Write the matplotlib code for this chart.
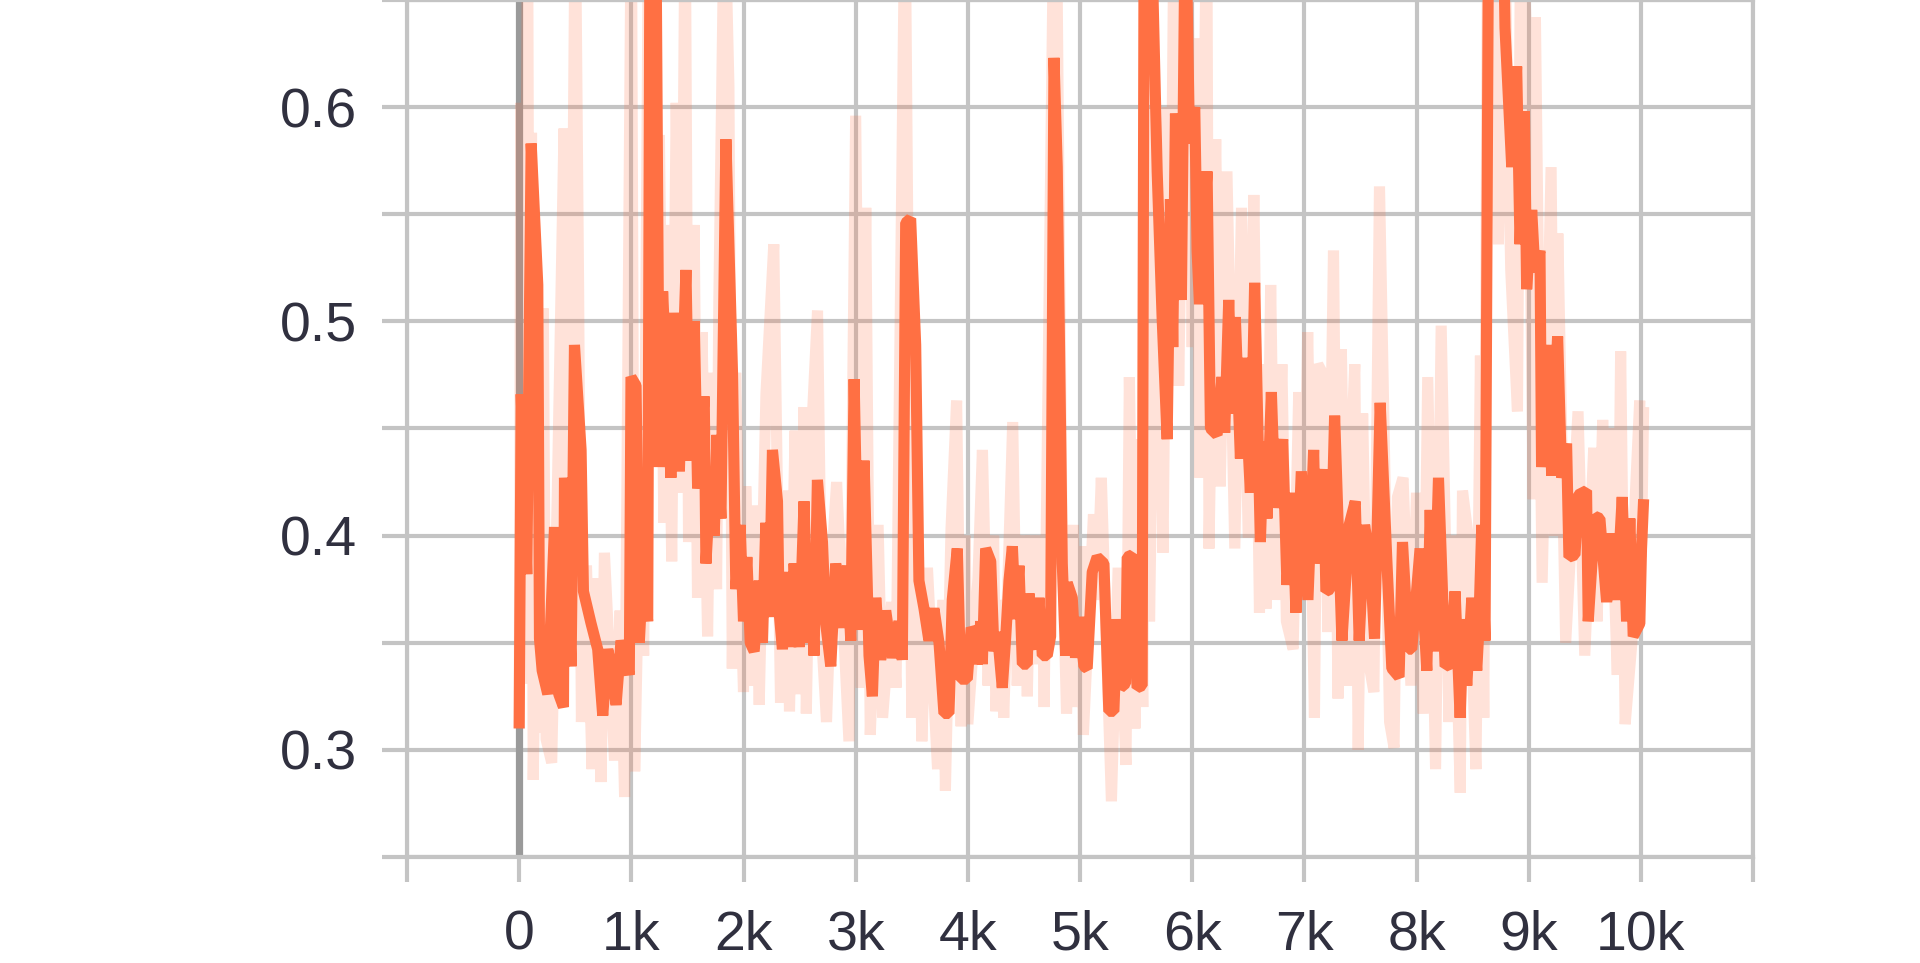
import matplotlib
matplotlib.use("Agg")
import matplotlib.pyplot as plt

# smoothed curve (vertices)
smooth_steps = [0, 18, 68, 107, 166, 181, 205, 255, 315, 353, 395, 404, 463, 493, 552, 573,
                641, 700, 745, 790, 819, 864, 908, 982, 997, 1042, 1071, 1101, 1146, 1170,
                1215, 1250, 1279, 1353, 1383, 1428, 1487, 1517, 1561, 1591, 1650, 1665, 1710,
                1739, 1763, 1799, 1843, 1902, 1932, 1970, 2000, 2030, 2060, 2095, 2140, 2169,
                2199, 2229, 2258, 2303, 2318, 2347, 2392, 2422, 2451, 2496, 2540, 2570, 2600,
                2629, 2659, 2704, 2733, 2778, 2822, 2882, 2926, 2956, 2986, 3030, 3075, 3119,
                3149, 3179, 3223, 3268, 3327, 3386, 3416, 3446, 3490, 3535, 3564, 3609, 3653,
                3698, 3743, 3787, 3832, 3861, 3906, 3936, 3995, 4030, 4055, 4085, 4115, 4129,
                4159, 4204, 4233, 4263, 4307, 4337, 4367, 4397, 4426, 4456, 4486, 4530, 4545,
                4575, 4604, 4634, 4664, 4708, 4738, 4768, 4797, 4842, 4872, 4886, 4931, 4960,
                4990, 5035, 5064, 5109, 5153, 5213, 5257, 5302, 5331, 5361, 5406, 5421, 5465,
                5509, 5554, 5575, 5620, 5688, 5732, 5777, 5806, 5827, 5851, 5904, 5940, 5976,
                6023, 6044, 6065, 6133, 6163, 6222, 6266, 6290, 6326, 6355, 6385, 6430, 6459,
                6519, 6557, 6608, 6637, 6667, 6706, 6741, 6807, 6845, 6890, 6925, 6973, 7032,
                7083, 7103, 7172, 7192, 7231, 7270, 7335, 7400, 7454, 7489, 7537, 7587, 7626,
                7676, 7736, 7780, 7845, 7875, 7929, 7958, 8032, 8092, 8122, 8151, 8196, 8255,
                8300, 8344, 8389, 8418, 8448, 8493, 8537, 8552, 8582, 8611, 8645, 8770, 8789,
                8849, 8893, 8923, 8962, 8982, 9027, 9056, 9101, 9115, 9175, 9205, 9258, 9294,
                9338, 9359, 9413, 9442, 9516, 9531, 9591, 9635, 9695, 9739, 9784, 9834, 9873,
                9902, 9932, 9991, 10006, 10025]
smooth_vals = [0.31, 0.466, 0.382, 0.583, 0.517, 0.352, 0.337, 0.326, 0.404, 0.326, 0.32, 0.427,
               0.339, 0.489, 0.44, 0.374, 0.359, 0.347, 0.316, 0.347, 0.339, 0.321, 0.351,
               0.335, 0.474, 0.47, 0.35, 0.381, 0.36, 0.75, 0.72, 0.432, 0.514, 0.427, 0.504,
               0.43, 0.524, 0.435, 0.5, 0.422, 0.465, 0.387, 0.43, 0.4, 0.447, 0.408, 0.585,
               0.476, 0.375, 0.405, 0.36, 0.39, 0.35, 0.346, 0.379, 0.35, 0.406, 0.362, 0.44,
               0.416, 0.364, 0.347, 0.383, 0.348, 0.387, 0.348, 0.416, 0.35, 0.387, 0.344,
               0.426, 0.397, 0.359, 0.339, 0.387, 0.357, 0.386, 0.351, 0.473, 0.356, 0.435,
               0.344, 0.325, 0.371, 0.342, 0.365, 0.343, 0.36, 0.342, 0.546, 0.548, 0.489,
               0.379, 0.366, 0.351, 0.366, 0.35, 0.317, 0.317, 0.37, 0.394, 0.333, 0.333,
               0.357, 0.355, 0.34, 0.36, 0.34, 0.394, 0.388, 0.346, 0.355, 0.329, 0.352, 0.379,
               0.395, 0.361, 0.386, 0.34, 0.34, 0.373, 0.353, 0.347, 0.371, 0.344, 0.344,
               0.353, 0.623, 0.572, 0.387, 0.344, 0.378, 0.371, 0.343, 0.362, 0.339, 0.338,
               0.383, 0.39, 0.387, 0.318, 0.318, 0.361, 0.329, 0.331, 0.39, 0.391, 0.329, 0.33,
               0.75, 0.72, 0.57, 0.502, 0.445, 0.557, 0.488, 0.597, 0.51, 0.70, 0.583, 0.6,
               0.533, 0.508, 0.57, 0.45, 0.447, 0.474, 0.448, 0.51, 0.457, 0.502, 0.436, 0.483,
               0.42, 0.518, 0.397, 0.444, 0.408, 0.467, 0.413, 0.445, 0.377, 0.42, 0.364, 0.43,
               0.37, 0.44, 0.387, 0.431, 0.374, 0.375, 0.456, 0.351, 0.405, 0.416, 0.351, 0.405,
               0.388, 0.352, 0.462, 0.388, 0.338, 0.334, 0.397, 0.347, 0.347, 0.394, 0.337,
               0.412, 0.346, 0.427, 0.339, 0.34, 0.374, 0.315, 0.361, 0.33, 0.371, 0.337, 0.352,
               0.405, 0.351, 0.72, 0.70, 0.637, 0.572, 0.619, 0.536, 0.598, 0.515, 0.552, 0.523,
               0.533, 0.432, 0.489, 0.428, 0.493, 0.427, 0.443, 0.39, 0.391, 0.419, 0.421, 0.36,
               0.409, 0.408, 0.369, 0.401, 0.37, 0.418, 0.36, 0.408, 0.353, 0.359, 0.394, 0.417]

# raw curve (faint)
raw_steps = [0, 15, 40, 75, 95, 110, 125, 160, 185, 215, 240, 290, 340, 400, 450, 500, 530, 555,
             600, 650, 690, 730, 760, 850, 900, 940, 1000, 1030, 1080, 1110, 1160, 1210, 1250,
             1290, 1320, 1360, 1400, 1440, 1480, 1510, 1560, 1590, 1630, 1680, 1710, 1760, 1780,
             1830, 1870, 1900, 1930, 1960, 2000, 2020, 2070, 2095, 2140, 2200, 2270, 2330, 2380,
             2410, 2460, 2490, 2540, 2560, 2600, 2660, 2700, 2740, 2790, 2830, 2880, 2940, 3000,
             3050, 3090, 3130, 3200, 3240, 3320, 3360, 3440, 3500, 3560, 3590, 3640, 3730, 3780,
             3800, 3850, 3900, 3940, 3975, 4000, 4090, 4130, 4180, 4230, 4250, 4290, 4320, 4400,
             4440, 4500, 4530, 4560, 4620, 4660, 4680, 4780, 4840, 4880, 4940, 4970, 5010, 5030,
             5120, 5150, 5190, 5280, 5340, 5410, 5440, 5490, 5520, 5560, 5590, 5620, 5680, 5740,
             5780, 5810, 5840, 5880, 5950, 6000, 6030, 6070, 6130, 6150, 6210, 6250, 6310, 6380,
             6440, 6500, 6550, 6600, 6640, 6660, 6700, 6740, 6800, 6840, 6900, 6950, 6990, 7030,
             7090, 7120, 7170, 7210, 7260, 7300, 7330, 7380, 7410, 7450, 7480, 7520, 7560, 7620,
             7670, 7720, 7760, 7800, 7830, 7880, 7950, 8000, 8060, 8100, 8170, 8220, 8290, 8330,
             8390, 8410, 8460, 8530, 8570, 8600, 8640, 8730, 8780, 8840, 8900, 8930, 9000, 9040,
             9060, 9120, 9200, 9230, 9260, 9330, 9440, 9500, 9580, 9610, 9660, 9700, 9720, 9790,
             9820, 9860, 9920, 9950, 9990, 10005, 10025]
raw_vals = [0.31, 0.602, 0.34, 0.70, 0.331, 0.588, 0.286, 0.41, 0.308, 0.506, 0.305, 0.294, 0.42,
            0.59, 0.36, 0.70, 0.515, 0.313, 0.386, 0.291, 0.38, 0.285, 0.392, 0.295, 0.365,
            0.278, 0.70, 0.29, 0.423, 0.344, 0.75, 0.45, 0.587, 0.406, 0.545, 0.388, 0.602,
            0.42, 0.70, 0.397, 0.545, 0.371, 0.495, 0.353, 0.476, 0.375, 0.509, 0.70, 0.61,
            0.338, 0.476, 0.40, 0.327, 0.423, 0.33, 0.414, 0.321, 0.466, 0.536, 0.322, 0.421,
            0.318, 0.449, 0.326, 0.46, 0.317, 0.44, 0.505, 0.35, 0.313, 0.39, 0.425, 0.37,
            0.304, 0.596, 0.329, 0.553, 0.307, 0.405, 0.315, 0.369, 0.329, 0.70, 0.315, 0.39,
            0.304, 0.385, 0.291, 0.37, 0.281, 0.403, 0.463, 0.311, 0.40, 0.312, 0.38, 0.44,
            0.33, 0.40, 0.318, 0.37, 0.315, 0.453, 0.33, 0.40, 0.325, 0.40, 0.34, 0.40, 0.32,
            0.75, 0.40, 0.317, 0.405, 0.32, 0.395, 0.307, 0.41, 0.37, 0.427, 0.276, 0.385,
            0.293, 0.474, 0.31, 0.445, 0.32, 0.75, 0.36, 0.58, 0.392, 0.60, 0.52, 0.70, 0.47,
            0.72, 0.488, 0.632, 0.427, 0.70, 0.394, 0.585, 0.423, 0.57, 0.394, 0.553, 0.399,
            0.559, 0.364, 0.48, 0.366, 0.517, 0.37, 0.48, 0.36, 0.347, 0.467, 0.37, 0.495,
            0.315, 0.48, 0.475, 0.355, 0.533, 0.324, 0.487, 0.33, 0.43, 0.48, 0.30, 0.457,
            0.345, 0.327, 0.563, 0.425, 0.313, 0.301, 0.418, 0.427, 0.33, 0.42, 0.317, 0.474,
            0.291, 0.498, 0.313, 0.40, 0.28, 0.421, 0.40, 0.291, 0.484, 0.315, 0.75, 0.536,
            0.70, 0.524, 0.458, 0.70, 0.609, 0.417, 0.642, 0.378, 0.572, 0.40, 0.541, 0.35,
            0.458, 0.344, 0.441, 0.36, 0.454, 0.39, 0.45, 0.335, 0.486, 0.312, 0.35, 0.418,
            0.463, 0.39, 0.46]

x_ticks = list(range(-1000, 11001, 1000))
x_labels = ["" if t < 0 or t > 10000 else ("0" if t == 0 else f"{t // 1000}k") for t in x_ticks]
y_ticks = [0.25, 0.30, 0.35, 0.40, 0.45, 0.50, 0.55, 0.60, 0.65]
y_labels = ["", "0.3", "", "0.4", "", "0.5", "", "0.6", ""]

ORANGE = "#ff7043"
GRID = "#c4c4c4"
TEXT = "#30303f"

plt.rcParams["font.family"] = ["Liberation Sans", "DejaVu Sans"]

fig = plt.figure(figsize=(19.2, 9.63), dpi=100)
ax = fig.add_axes([407 / 1920, 106 / 963, 1346 / 1920, 857 / 963])

ax.axvline(0, color="#9a9a9a", lw=5.2, zorder=1)
ax.plot(raw_steps, raw_vals, color=ORANGE, alpha=0.2, lw=8,
        solid_capstyle="butt", solid_joinstyle="bevel", zorder=2)
ax.plot(smooth_steps, smooth_vals, color=ORANGE, lw=8,
        solid_capstyle="butt", solid_joinstyle="bevel", zorder=3)

ax.set_xlim(-1000, 11000)
ax.set_ylim(0.25, 0.65)
ax.set_xticks(x_ticks, x_labels)
ax.set_yticks(y_ticks, y_labels)
ax.grid(True, color=GRID, alpha=1.0, lw=3, zorder=0)
ax.set_axisbelow(True)
for s in ax.spines.values():
    s.set_color(GRID)
    s.set_linewidth(3)
ax.tick_params(axis="both", length=18, width=3, color=GRID,
               labelsize=40, labelcolor=TEXT)
ax.tick_params(axis="x", pad=20)
ax.tick_params(axis="y", pad=18)

fig.savefig("out.png", dpi=100)
